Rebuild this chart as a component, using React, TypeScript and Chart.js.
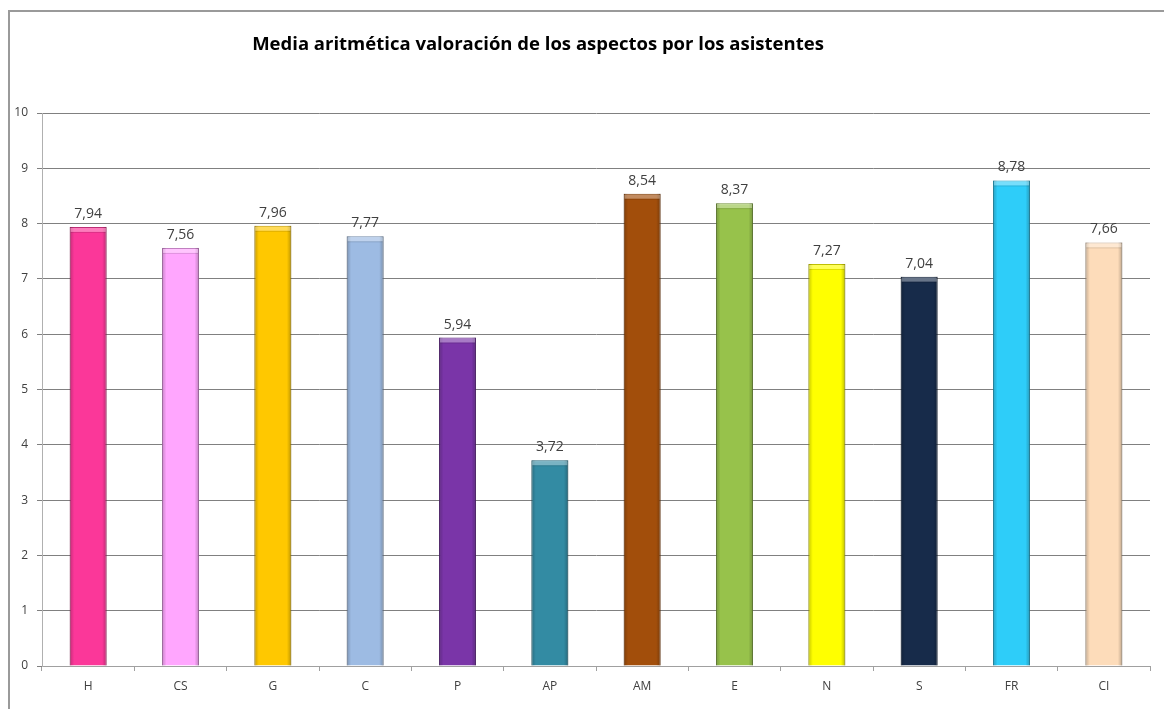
import React, { useEffect, useRef } from "react";
import { Chart, registerables } from "chart.js";

Chart.register(...registerables);

const TITLE = "Media aritmética valoración de los aspectos por los asistentes";
const categories = ["H", "CS", "G", "C", "P", "AP", "AM", "E", "N", "S", "FR", "CI"];
const values = [7.94, 7.56, 7.96, 7.77, 5.94, 3.72, 8.54, 8.37, 7.27, 7.04, 8.78, 7.66];
const barColors = [
  "#FB3799", "#FFA6FE", "#FFC800", "#9DBBE3", "#7A35A8", "#338BA3",
  "#A24E0B", "#97C24B", "#FFFF00", "#172B4A", "#2ECDF9", "#FDDCBA",
];
const yMin = 0;
const yMax = 10;
const yStep = 1;

function shade(hex: string, f: number) {
  const n = parseInt(hex.slice(1), 16);
  const r = Math.round(((n >> 16) & 255) * f);
  const g = Math.round(((n >> 8) & 255) * f);
  const b = Math.round((n & 255) * f);
  return `rgb(${Math.min(255, r)},${Math.min(255, g)},${Math.min(255, b)})`;
}

const framePlugin = {
  id: "frame",
  beforeDraw(chart: any) {
    const ctx = chart.ctx;
    ctx.save();
    ctx.fillStyle = "#ffffff";
    ctx.fillRect(0, 0, chart.width, chart.height);
    ctx.strokeStyle = "#9a9a9a";
    ctx.lineWidth = 2;
    ctx.beginPath();
    ctx.moveTo(9, chart.height);
    ctx.lineTo(9, 11);
    ctx.lineTo(chart.width, 11);
    ctx.stroke();
    ctx.fillStyle = "#000000";
    ctx.font = "bold 18.5px 'Open Sans'";
    ctx.textAlign = "center";
    ctx.textBaseline = "middle";
    ctx.fillText(TITLE, 538, 45);
    ctx.restore();
  },
};

const bevelPlugin = {
  id: "bevel",
  afterDatasetsDraw(chart: any) {
    const ctx = chart.ctx;
    const meta = chart.getDatasetMeta(0);
    ctx.save();
    meta.data.forEach((bar: any, i: number) => {
      const w = bar.width;
      const left = bar.x - w / 2;
      const top = bar.y;
      const h = bar.base - bar.y;
      const g = ctx.createLinearGradient(left, 0, left + w, 0);
      g.addColorStop(0, "rgba(0,0,0,0.22)");
      g.addColorStop(0.12, "rgba(0,0,0,0)");
      g.addColorStop(0.88, "rgba(0,0,0,0)");
      g.addColorStop(1, "rgba(0,0,0,0.25)");
      ctx.fillStyle = g;
      ctx.fillRect(left, top, w, h);
      ctx.fillStyle = "rgba(255,255,255,0.35)";
      ctx.fillRect(left + 1, top + 1, w - 2, 4);
      ctx.fillStyle = "rgba(0,0,0,0.12)";
      ctx.fillRect(left + 1, top + 5, w - 2, 1);
      // data label
      ctx.fillStyle = "#404040";
      ctx.font = "14px 'Open Sans'";
      ctx.textAlign = "center";
      ctx.textBaseline = "bottom";
      ctx.fillText(values[i].toFixed(2).replace(".", ","), bar.x, top - 6);
    });
    ctx.restore();
  },
};

export default function App() {
  const ref = useRef<HTMLCanvasElement>(null);
  useEffect(() => {
    if (!ref.current) return;
    const chart = new Chart(ref.current, {
      type: "bar",
      data: {
        labels: categories,
        datasets: [
          {
            data: values,
            backgroundColor: barColors,
            borderColor: barColors.map((c) => shade(c, 0.75)),
            borderWidth: 1,
            barPercentage: 0.8,
            categoryPercentage: 0.5,
          },
        ],
      },
      options: {
        responsive: false,
        animation: false,
        events: [],
        layout: { padding: { left: 0, right: 14, top: 113, bottom: 0 } },
        plugins: {
          legend: { display: false },
          title: { display: false },
          tooltip: { enabled: false },
        },
        scales: {
          x: {
            afterFit: (s: any) => {
              s.height = 43;
            },
            grid: {
              offset: true,
              drawOnChartArea: false,
              drawTicks: true,
              tickLength: 5,
              color: "#a0a0a0",
            },
            border: { color: "#a0a0a0", width: 1 },
            ticks: {
              color: "#404040",
              font: { family: "'Open Sans'", size: 12 },
              padding: 8,
            },
          },
          y: {
            min: yMin,
            max: yMax,
            afterFit: (s: any) => {
              s.width = 42;
            },
            grid: {
              color: "#808080",
              drawTicks: true,
              tickLength: 5,
            },
            border: { color: "#b0b0b0", width: 1 },
            ticks: {
              stepSize: yStep,
              color: "#404040",
              font: { family: "'Open Sans'", size: 12 },
              padding: 9,
            },
          },
        },
      },
      plugins: [framePlugin, bevelPlugin],
    });
    return () => chart.destroy();
  }, []);
  return (
    <div style={{ position: "fixed", left: 0, top: 0, width: 1164, height: 709, background: "#fff" }}>
      <canvas ref={ref} width={1164} height={709} style={{ display: "block" }} />
    </div>
  );
}
